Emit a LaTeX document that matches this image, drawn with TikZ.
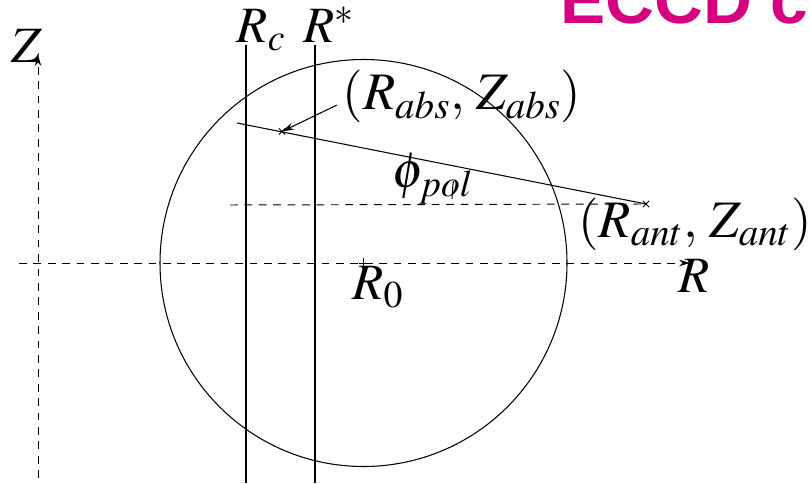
\documentclass[tikz,border=0pt]{standalone}
\usepackage[no-math]{fontspec}
\usepackage{mathptmx}
\setsansfont{Liberation Sans}
\usetikzlibrary{arrows.meta,shapes.misc}
\definecolor{ecInk}{HTML}{000000}
\definecolor{ecTitle}{HTML}{D5007F}
\tikzset{
  ec axis/.style={
    draw=ecInk,
    line width=.55pt,
    dash pattern=on 4.4pt off 3.8pt,
    -{Stealth[length=2.2mm,width=1.3mm]}
  },
  ec guide/.style={
    draw=ecInk,
    line width=.55pt,
    dash pattern=on 4.4pt off 3.8pt
  },
  ec line/.style={draw=ecInk, line width=.6pt},
  ec pointer/.style={
    draw=ecInk,
    line width=.6pt,
    -{Stealth[length=2.4mm,width=1.4mm]}
  },
  ec mark/.style={cross out, draw=ecInk, line width=.5pt,
    inner sep=0pt, minimum size=1.1mm},
  ec label/.style={font=\fontsize{29}{34}\selectfont, text=ecInk,
    inner sep=0pt},
  ec pair/.style={font=\fontsize{30}{35}\selectfont, text=ecInk,
    inner sep=0pt},
  ec title/.style={font=\fontsize{38.5}{46}\selectfont\sffamily\bfseries,
    text=ecTitle, inner sep=0pt}
}
\begin{document}
\begin{tikzpicture}[x=.02cm,y=.02cm]
  \useasboundingbox (0,0) rectangle (810,483);
  \node[ec title, anchor=base west] (title) at (560,459) {ECCD cu};

  % axes
  \coordinate (zbot) at (38,5);
  \coordinate (ztop) at (38,428);
  \coordinate (rleft) at (19,220);
  \coordinate (rright) at (690,220);
  \draw[ec axis] (zbot) -- (ztop);
  \draw[ec axis] (rleft) -- (rright);
  \node[ec label, anchor=base] (zlab) at (27,420) {$Z$};
  \node[ec label, anchor=base] (rlab) at (694,190) {$R$};

  % plasma boundary
  \node[ec mark, rotate=45] (r0) at (363.5,220) {};
  \draw[ec line] (r0.center) circle[radius=203.5];
  \node[ec label, anchor=base] (r0lab) at (378,183) {$R_0$};

  % resonance layers
  \coordinate (rcbot) at (246,0);
  \coordinate (rctop) at (246,438);
  \coordinate (rsbot) at (315,0);
  \coordinate (rstop) at (315,438);
  \draw[ec line] (rcbot) -- (rctop);
  \draw[ec line] (rsbot) -- (rstop);
  \node[ec label, anchor=base] (rclab) at (261,440) {$R_c$};
  \node[ec label, anchor=base] (rslab) at (329,440) {$R^{*}$};

  % beam
  \node[ec mark] (ant) at (646,279) {};
  \node[ec mark] (abs) at (282,351.5) {};
  \coordinate (raystart) at (237,360);
  \coordinate (hstart) at (230,278);
  \draw[ec line] (raystart) -- (ant.center);
  \draw[ec guide] (hstart) -- (ant.center);
  \draw[ec line] (ant.center) ++(178.5:194) arc[start angle=178.5, end angle=173.2, radius=194];
  \node[ec label, anchor=base] (philab) at (433,295) {$\phi_{pol}$};
  \node[ec pair, anchor=base] (antlab) at (695,245) {$(R_{ant},\,Z_{ant})$};
  \node[ec pair, anchor=base] (abslab) at (462,373) {$(R_{abs},\,Z_{abs})$};
  \coordinate (ptail) at (337,378);
  \draw[ec pointer] (ptail) -- (abs.center);
\end{tikzpicture}
\end{document}
